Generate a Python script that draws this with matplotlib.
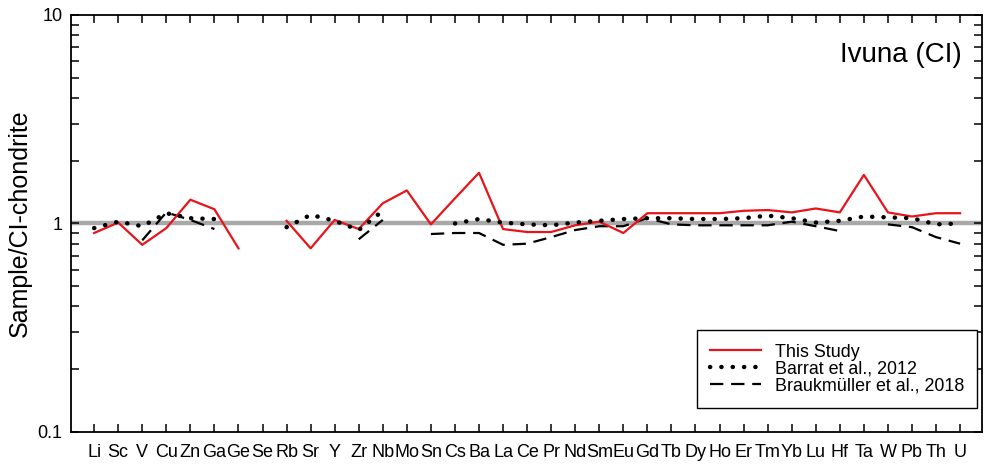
import numpy as np
import matplotlib
matplotlib.use("Agg")
import matplotlib.pyplot as plt
from matplotlib.ticker import LogLocator, NullFormatter, FixedLocator

plt.rcParams['font.family'] = ['Liberation Sans', 'DejaVu Sans']

nan = np.nan

# element order on the x axis
elements = ['Li', 'Sc', 'V', 'Cu', 'Zn', 'Ga', 'Ge', 'Se', 'Rb', 'Sr', 'Y', 'Zr',
            'Nb', 'Mo', 'Sn', 'Cs', 'Ba', 'La', 'Ce', 'Pr', 'Nd', 'Sm', 'Eu', 'Gd',
            'Tb', 'Dy', 'Ho', 'Er', 'Tm', 'Yb', 'Lu', 'Hf', 'Ta', 'W', 'Pb', 'Th', 'U']

# Sample/CI-chondrite values (nan = no data)
this_study = [0.90, 1.01, 0.79, 0.95, 1.30, 1.17, 0.76, nan, 1.03, 0.76, 1.04, 0.94,
              1.25, 1.44, 0.99, 1.32, 1.75, 0.94, 0.91, 0.91, 0.98, 1.02, 0.90, 1.12,
              1.12, 1.12, 1.12, 1.15, 1.16, 1.13, 1.18, 1.13, 1.71, 1.13, 1.08, 1.12, 1.12]

barrat_2012 = [0.95, 1.02, 0.97, 1.12, 1.06, 1.05, nan, nan, 0.96, 1.10, 1.03, 0.93,
               1.15, nan, nan, 1.00, 1.05, 1.01, 0.99, 0.98, 1.01, 1.03, 1.05, 1.06,
               1.06, 1.05, 1.05, 1.06, 1.09, 1.06, 1.01, 1.03, 1.08, 1.07, 1.06, 0.99, 1.00]

braukmuller_2018 = [nan, nan, 0.83, 1.13, 1.04, 0.94, nan, nan, nan, nan, nan, 0.84,
                    1.04, nan, 0.89, 0.90, 0.90, 0.79, 0.80, 0.86, 0.93, 0.97, 0.97, 1.06,
                    0.99, 0.98, 0.98, 0.98, 0.98, 1.02, 0.97, 0.92, nan, 0.99, 0.96, 0.86, 0.80]

x = np.arange(len(elements))

fig = plt.figure(figsize=(9.84, 4.68), dpi=100)
ax = fig.add_axes([0.0722, 0.077, 0.926, 0.891])

# reference line at CI = 1
ax.axhline(1.0, color='#a8a8a8', lw=3.2, zorder=1)

ax.plot(x, this_study, color='#e8141c', lw=1.6, label='This Study', zorder=3)
ax.plot(x, barrat_2012, color='black', lw=3.2, linestyle=(0, (0.05, 2.5)),
        dash_capstyle='round', solid_capstyle='round', label='Barrat et al., 2012', zorder=4)
ax.plot(x, braukmuller_2018, color='black', lw=1.6, linestyle=(0, (6, 3.5)),
        label='Braukmüller et al., 2018', zorder=2)

ax.set_yscale('log')
ax.set_ylim(0.1, 10)
ax.set_xlim(-0.96, 36.92)

ax.set_xticks(x)
ax.set_xticklabels(elements, fontsize=13)
ax.yaxis.set_major_locator(FixedLocator([0.1, 1, 10]))
ax.set_yticklabels(['0.1', '1', '10'], fontsize=13)
ax.yaxis.set_minor_locator(LogLocator(base=10, subs=np.arange(2, 10)))
ax.yaxis.set_minor_formatter(NullFormatter())

ax.tick_params(axis='both', which='major', direction='in', length=6, width=1.1,
               top=True, right=True, pad=9)
ax.tick_params(axis='y', which='minor', direction='in', length=6, width=1.1, right=True)
ax.tick_params(axis='y', which='major', pad=6)
for s in ax.spines.values():
    s.set_linewidth(1.3)

ax.set_ylabel('Sample/CI-chondrite', fontsize=18, labelpad=4)

ax.text(0.978, 0.904, 'Ivuna (CI)', transform=ax.transAxes, ha='right', va='center',
        fontsize=20)

leg = ax.legend(loc='lower right', bbox_to_anchor=(0.9945, 0.0576), borderaxespad=0,
                fontsize=12.9, fancybox=False, framealpha=1, edgecolor='black',
                handlelength=2.85, labelspacing=0.0, borderpad=0.75, handletextpad=0.73)
leg.get_frame().set_linewidth(1.0)

fig.savefig('out.png', dpi=100)
